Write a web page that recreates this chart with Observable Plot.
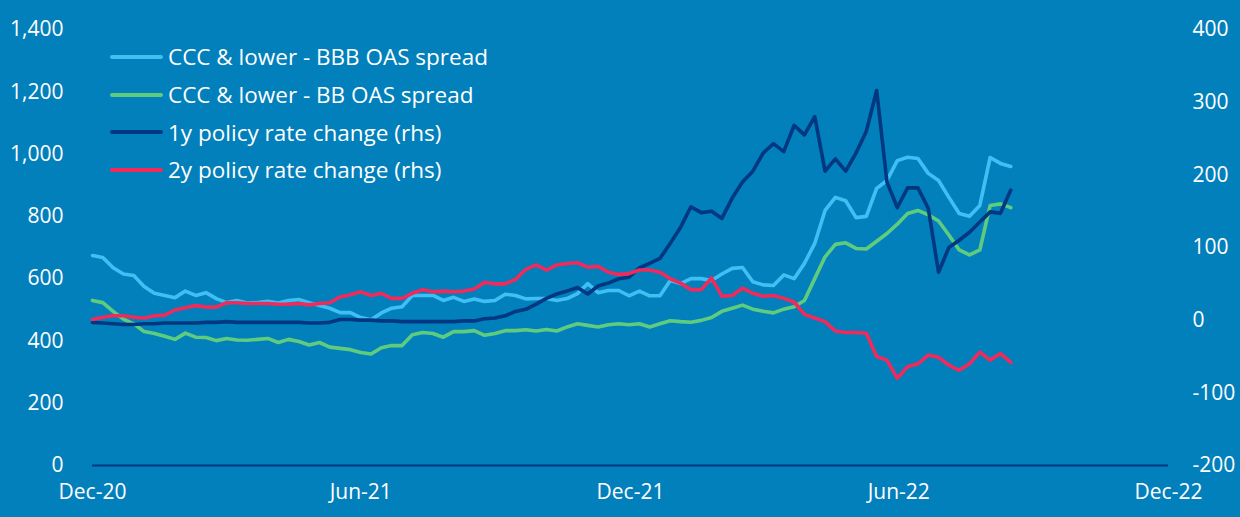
<!DOCTYPE html>
<html>
<head>
<meta charset="utf-8">
<script src="https://cdn.jsdelivr.net/npm/d3@7"></script>
<script src="https://cdn.jsdelivr.net/npm/@observablehq/plot@0.6"></script>
<style>
  html, body { margin: 0; padding: 0; background: #0280BB; }
  #wrap { position: relative; width: 1240px; height: 517px; font-family: "Open Sans", Lato, sans-serif; }
  #legend { position: absolute; left: 110px; top: 38px; color: #fff; font-size: 22.5px; }
  #legend .row { display: flex; align-items: center; height: 37.7px; white-space: nowrap; }
  #legend .sw { width: 53px; height: 4px; border-radius: 2px; margin-right: 5px; }
</style>
</head>
<body>
<div id="wrap"><div id="legend"></div></div>
<script>
// ---- data ----
const startDate = "2020-12-01";   // first observation
const stepDays = 7;               // weekly observations
const seriesNames = [
  "CCC & lower - BBB OAS spread",
  "CCC & lower - BB OAS spread",
  "1y policy rate change (rhs)",
  "2y policy rate change (rhs)"
];
const seriesColors = ["#40BFF5", "#5FCB7E", "#003781", "#F02A5B"];

// left axis (bp)
const bbbSpread = [
  674,668,635,615,610,575,553,546,539,560,
  546,555,536,523,530,522,523,527,522,530,
  533,523,514,505,491,491,475,468,490,505,
  510,546,546,546,530,540,527,535,527,530,
  550,546,535,536,536,530,536,552,584,555,
  562,562,545,560,545,545,594,584,600,600,
  594,615,633,636,590,580,578,612,600,649,
  713,819,861,850,796,800,890,915,979,990,
  986,938,915,861,809,800,835,989,970,960
];
const bbSpread = [
  530,523,495,470,455,430,424,415,405,425,
  412,411,401,408,403,402,405,408,395,405,
  398,387,395,380,376,372,363,358,378,385,
  385,420,427,424,412,430,430,433,418,424,
  433,433,436,432,437,432,445,455,450,445,
  452,455,452,455,445,455,465,462,460,466,
  475,495,505,515,502,495,490,502,510,530,
  600,670,710,715,697,695,720,745,775,809,
  819,805,785,740,692,676,692,835,840,828
];
// right axis (bp)
const policy1y = [
  -3,-4,-5,-6,-6,-5,-5,-4,-4,-4,
  -4,-3,-3,-2,-3,-3,-3,-3,-3,-3,
  -3,-4,-4,-3,1,1,0,0,-1,-1,
  -2,-2,-2,-2,-2,-2,-1,-1,2,3,
  6,12,15,22,30,36,40,45,36,47,
  51,57,59,72,78,85,106,128,156,148,
  150,140,168,190,205,230,243,232,268,255,
  280,205,222,205,230,260,316,190,155,182,
  182,154,66,100,110,121,135,149,147,179
];
const policy2y = [
  1,4,6,6,4,3,6,7,14,17,
  20,18,18,24,24,23,23,23,22,22,
  23,21,23,24,32,35,39,34,37,30,
  30,37,42,39,40,39,40,43,52,50,
  50,56,70,76,69,76,78,79,73,74,
  66,63,64,69,69,66,57,51,42,42,
  58,33,34,44,37,33,34,30,25,8,
  3,-2,-15,-17,-17,-18,-50,-55,-80,-64,
  -60,-48,-51,-62,-69,-60,-44,-55,-46,-58
];

const xDomain = ["2020-12-01", "2022-12-01"];
const xTicks = ["2020-12-01","2021-06-01","2021-12-01","2022-06-01","2022-12-01"];
const leftDomain = [0, 1400];
const leftTicks = [0,200,400,600,800,1000,1200,1400];
const rightDomain = [-200, 400];
const rightTicks = [-200,-100,0,100,200,300,400];

// ---- build ----
const parse = d3.utcParse("%Y-%m-%d");
const t0 = parse(startDate);
const rows = bbbSpread.map((v, i) => ({
  date: d3.utcDay.offset(t0, i * stepDays),
  bbb: v, bb: bbSpread[i], p1: policy1y[i], p2: policy2y[i]
}));
const k = (leftDomain[1] - leftDomain[0]) / (rightDomain[1] - rightDomain[0]);
const toLeft = r => leftDomain[0] + (r - rightDomain[0]) * k;
const fromLeft = l => rightDomain[0] + (l - leftDomain[0]) / k;

const lw = 3.6;
const chart = Plot.plot({
  width: 1240,
  height: 517,
  marginLeft: 92,
  marginRight: 72,
  marginTop: 29,
  marginBottom: 52,
  style: { background: "transparent", color: "#fff", fontFamily: "'Open Sans', Lato, sans-serif", fontSize: "21px" },
  x: { type: "utc", domain: xDomain.map(parse) },
  y: { domain: leftDomain },
  marks: [
    Plot.axisY({ anchor: "left", ticks: leftTicks, tickSize: 0, tickPadding: 29, tickFormat: d3.format(","), label: null, fill: "#fff" }),
    Plot.axisY({ anchor: "right", ticks: rightTicks.map(toLeft), tickSize: 0, tickPadding: 24,
                 tickFormat: v => String(Math.round(fromLeft(v))), label: null, fill: "#fff" }),
    Plot.axisX({ ticks: xTicks.map(parse), tickSize: 0, tickPadding: 19, tickFormat: d3.utcFormat("%b-%y"), label: null, fill: "#fff" }),
    Plot.ruleY([leftDomain[0]], { stroke: "#003781", strokeWidth: 2 }),
    Plot.line(rows, { x: "date", y: "bbb", stroke: seriesColors[0], strokeWidth: lw }),
    Plot.line(rows, { x: "date", y: "bb", stroke: seriesColors[1], strokeWidth: lw }),
    Plot.line(rows, { x: "date", y: d => toLeft(d.p1), stroke: seriesColors[2], strokeWidth: lw }),
    Plot.line(rows, { x: "date", y: d => toLeft(d.p2), stroke: seriesColors[3], strokeWidth: lw })
  ]
});
document.getElementById("wrap").appendChild(chart);

const legend = document.getElementById("legend");
seriesNames.forEach((name, i) => {
  const row = document.createElement("div");
  row.className = "row";
  const sw = document.createElement("div");
  sw.className = "sw";
  sw.style.background = seriesColors[i];
  const tx = document.createElement("span");
  tx.textContent = name;
  row.appendChild(sw); row.appendChild(tx);
  legend.appendChild(row);
});
</script>
</body>
</html>
